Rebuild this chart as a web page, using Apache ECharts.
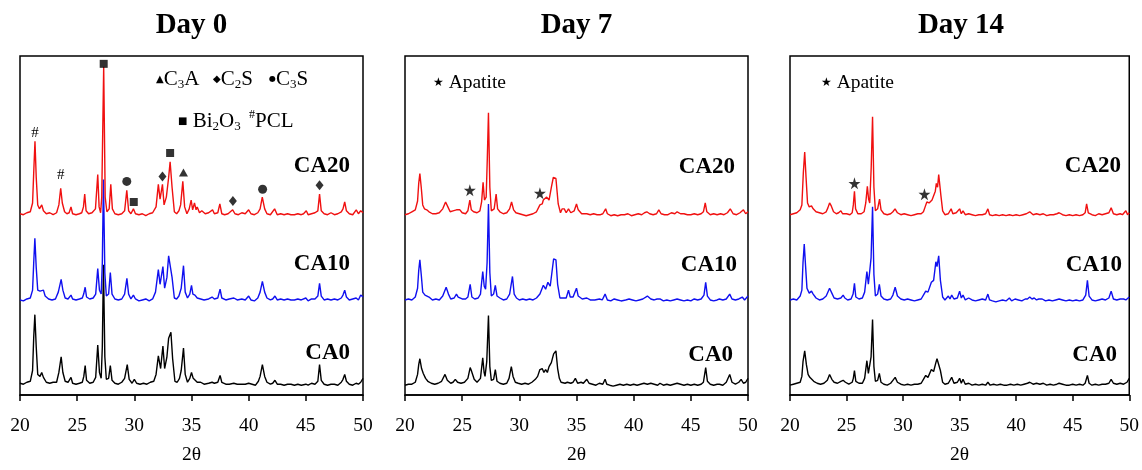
<!DOCTYPE html>
<html><head><meta charset="utf-8">
<script src="https://cdn.jsdelivr.net/npm/echarts@6/dist/echarts.min.js"></script>
<style>html,body{margin:0;padding:0;background:#fff}#c{width:1142px;height:470px}</style>
</head><body><div id="c"></div>
<script>
// ---------- data ----------
const panels = ['Day 0', 'Day 7', 'Day 14'];
const samples = ['CA0', 'CA10', 'CA20'];
const xTicks = [20, 25, 30, 35, 40, 45, 50];
const stackOffsets = [9, 95, 182];   // vertical stacking offsets (a.u.) for CA0, CA10, CA20

const day0_CA20 = [[20,3],[20.3,2],[20.6,4],[20.9,5],[21.1,14],[21.2,45],[21.31,77],[21.42,40],[21.55,12],[21.7,8],[21.9,12],[22.05,6],[22.3,3],[22.6,4],[22.9,2],[23.2,4],[23.4,12],[23.56,29],[23.7,14],[23.9,5],[24.1,3],[24.3,4],[24.46,10],[24.6,3],[24.9,2],[25.2,3],[25.4,4],[25.55,10],[25.66,23],[25.78,6],[26.0,3],[26.3,4],[26.6,8],[26.8,43],[26.92,10],[27.05,4],[27.15,20],[27.32,153],[27.45,20],[27.6,5],[27.8,8],[27.94,33],[28.08,8],[28.3,3],[28.6,2],[28.9,3],[29.15,6],[29.34,27],[29.5,6],[29.7,3],[29.92,8],[30.1,3],[30.4,2],[30.7,3],[31.0,1],[31.3,3],[31.6,4],[31.9,10],[32.1,33],[32.25,18],[32.46,33],[32.6,12],[32.8,20],[33.0,40],[33.13,56],[33.3,30],[33.5,5],[33.7,3],[33.9,6],[34.05,12],[34.24,36],[34.4,10],[34.6,3],[34.8,8],[34.97,17],[35.1,7],[35.26,14],[35.4,7],[35.5,10],[35.7,4],[35.9,6],[36.2,3],[36.5,4],[36.84,7],[37.0,3],[37.3,4],[37.48,13],[37.65,3],[37.9,2],[38.2,3],[38.6,7],[38.8,3],[39.1,2],[39.4,4],[39.7,3],[40.0,7],[40.2,3],[40.5,2],[40.8,4],[41.0,8],[41.19,20],[41.4,8],[41.6,3],[41.9,2],[42.27,8],[42.5,2],[42.8,3],[43.1,2],[43.4,3],[43.7,2],[44.0,2],[44.3,3],[44.6,2],[44.8,3],[45.04,6],[45.2,2],[45.5,3],[45.8,4],[46.05,6],[46.2,23],[46.35,6],[46.6,3],[46.9,2],[47.2,4],[47.5,2],[47.8,3],[48.1,5],[48.25,8],[48.4,15],[48.55,6],[48.8,3],[49.1,2],[49.41,7],[49.6,3],[49.8,6],[50,4]];
const day0_CA10 = [[20,2],[20.3,1],[20.6,3],[20.9,4],[21.1,12],[21.2,40],[21.3,65],[21.42,35],[21.55,12],[21.75,11],[21.9,13],[22.05,12],[22.2,6],[22.5,3],[22.8,2],[23.1,3],[23.35,10],[23.6,23],[23.75,12],[23.95,4],[24.2,3],[24.46,7],[24.6,3],[24.9,2],[25.2,3],[25.45,4],[25.57,8],[25.7,15],[25.82,5],[26.1,3],[26.4,4],[26.62,8],[26.8,34],[26.95,12],[27.1,8],[27.2,40],[27.3,125],[27.42,30],[27.55,6],[27.75,8],[27.9,30],[28.05,8],[28.3,3],[28.6,2],[28.9,3],[29.15,8],[29.35,24],[29.5,8],[29.7,3],[29.92,7],[30.1,3],[30.4,1],[30.7,2],[31.0,3],[31.3,1],[31.6,3],[31.85,10],[32.1,33],[32.25,18],[32.5,36],[32.65,14],[32.85,25],[33.0,47],[33.15,49],[33.3,25],[33.5,4],[33.7,3],[33.9,6],[34.1,14],[34.3,37],[34.45,10],[34.65,4],[34.85,8],[35.0,17],[35.12,8],[35.3,7],[35.5,4],[35.8,3],[36.1,2],[36.5,3],[36.8,5],[37.0,3],[37.3,4],[37.5,13],[37.65,4],[38.0,2],[38.3,3],[38.7,4],[39.0,2],[39.4,3],[39.7,2],[40.0,6],[40.2,2],[40.5,1],[40.8,4],[41.0,10],[41.2,21],[41.4,10],[41.6,4],[41.9,2],[42.1,3],[42.3,6],[42.5,2],[42.8,3],[43.1,2],[43.4,3],[43.7,2],[44.0,2],[44.3,3],[44.6,2],[45.0,4],[45.2,1],[45.5,3],[45.8,3],[46.05,6],[46.2,19],[46.35,6],[46.6,2],[46.9,3],[47.2,2],[47.5,3],[47.8,2],[48.1,4],[48.25,7],[48.4,12],[48.55,5],[48.8,2],[49.1,3],[49.4,4],[49.6,2],[49.8,7],[50,5]];
const day0_CA0 = [[20,3],[20.3,2],[20.6,4],[20.9,5],[21.1,16],[21.2,50],[21.3,73],[21.42,40],[21.55,12],[21.75,10],[21.9,14],[22.05,9],[22.3,4],[22.6,3],[22.9,4],[23.2,4],[23.4,14],[23.6,30],[23.75,14],[23.95,5],[24.2,4],[24.46,9],[24.6,3],[24.9,2],[25.2,3],[25.45,4],[25.58,10],[25.7,21],[25.82,6],[26.1,3],[26.4,4],[26.62,9],[26.8,42],[26.95,14],[27.1,8],[27.2,40],[27.3,124],[27.42,30],[27.55,7],[27.75,8],[27.9,21],[28.05,6],[28.3,3],[28.6,2],[28.9,4],[29.15,8],[29.38,22],[29.55,7],[29.8,3],[30.0,7],[30.2,3],[30.5,2],[30.8,3],[31.1,2],[31.4,4],[31.7,5],[31.9,12],[32.1,31],[32.3,18],[32.5,41],[32.65,18],[32.85,30],[33.0,49],[33.2,55],[33.35,28],[33.55,5],[33.75,4],[33.95,8],[34.1,16],[34.3,39],[34.45,12],[34.65,4],[34.85,8],[35.0,14],[35.15,8],[35.3,7],[35.5,4],[35.8,4],[36.1,2],[36.5,3],[36.8,4],[37.0,3],[37.3,4],[37.5,11],[37.65,4],[38.0,2],[38.3,2],[38.7,3],[39.0,2],[39.4,2],[39.7,2],[40.0,3],[40.3,2],[40.6,1],[40.85,5],[41.0,10],[41.2,22],[41.4,10],[41.6,4],[41.9,2],[42.1,3],[42.3,6],[42.5,2],[42.8,2],[43.1,1],[43.4,2],[43.7,2],[44.0,1],[44.3,2],[44.6,1],[45.0,2],[45.2,1],[45.5,3],[45.8,2],[46.05,5],[46.2,22],[46.35,6],[46.6,2],[46.9,1],[47.2,2],[47.5,2],[47.8,1],[48.1,4],[48.25,7],[48.4,12],[48.55,5],[48.8,2],[49.1,1],[49.4,3],[49.6,2],[49.8,4],[50,8]];

const day7_CA20 = [[20,2],[20.3,3],[20.6,5],[20.9,7],[21.1,16],[21.2,34],[21.3,44],[21.42,30],[21.55,12],[21.7,8],[21.9,7],[22.1,5],[22.4,3],[22.7,3],[23.0,4],[23.3,8],[23.55,15],[23.75,10],[23.95,5],[24.2,6],[24.5,7],[24.65,5],[24.8,7],[25.0,4],[25.3,3],[25.5,6],[25.67,17],[25.8,7],[26.0,5],[26.3,4],[26.55,6],[26.7,15],[26.83,35],[26.95,17],[27.1,20],[27.2,60],[27.3,106],[27.42,30],[27.55,6],[27.8,8],[27.97,23],[28.1,8],[28.3,5],[28.6,3],[28.9,4],[29.15,8],[29.32,15],[29.5,7],[29.7,4],[30.0,3],[30.3,2],[30.6,1],[30.9,2],[31.2,3],[31.5,5],[31.8,12],[32.0,13],[32.1,17],[32.25,15],[32.39,20],[32.6,17],[32.8,30],[32.97,40],[33.1,41],[33.2,39],[33.4,13],[33.6,4],[33.75,8],[33.93,8],[34.1,4],[34.3,8],[34.5,4],[34.8,6],[35.0,13],[35.15,7],[35.3,8],[35.45,3],[35.6,5],[35.9,3],[36.2,2],[36.5,3],[36.8,2],[37.1,2],[37.3,3],[37.55,8],[37.7,3],[38.0,1],[38.3,2],[38.6,1],[38.9,2],[39.2,2],[39.5,3],[39.8,1],[40.1,2],[40.4,3],[40.7,2],[40.95,4],[41.15,5],[41.4,3],[41.7,2],[42.0,3],[42.2,7],[42.4,3],[42.7,2],[43.0,2],[43.3,4],[43.6,3],[43.8,5],[44.1,3],[44.4,3],[44.7,2],[45.0,2],[45.3,3],[45.6,2],[45.9,3],[46.1,5],[46.26,14],[46.4,5],[46.7,2],[47.0,3],[47.3,2],[47.6,3],[47.9,2],[48.2,4],[48.45,8],[48.7,3],[49.0,2],[49.3,4],[49.6,7],[49.8,3],[50,5]];
const day7_CA10 = [[20,2],[20.3,3],[20.6,2],[20.9,5],[21.1,14],[21.2,32],[21.3,43],[21.42,28],[21.55,10],[21.75,7],[21.9,8],[22.1,5],[22.4,2],[22.7,3],[23.0,2],[23.3,6],[23.6,15],[23.8,8],[24.0,3],[24.3,4],[24.5,8],[24.65,5],[24.8,6],[25.0,3],[25.3,3],[25.5,5],[25.7,18],[25.85,5],[26.1,3],[26.4,4],[26.6,8],[26.8,31],[26.93,16],[27.05,13],[27.18,40],[27.3,100],[27.42,30],[27.55,6],[27.75,8],[27.9,17],[28.05,6],[28.3,4],[28.6,2],[28.9,3],[29.15,8],[29.4,26],[29.55,8],[29.75,4],[30.0,2],[30.3,3],[30.6,2],[30.9,3],[31.2,2],[31.5,4],[31.8,8],[32.1,17],[32.3,13],[32.5,20],[32.7,16],[32.85,30],[33.0,44],[33.2,43],[33.35,18],[33.55,4],[33.75,4],[33.9,5],[34.1,4],[34.3,12],[34.45,5],[34.7,5],[35.0,14],[35.15,6],[35.3,6],[35.5,3],[35.9,4],[36.2,2],[36.6,2],[37.0,3],[37.25,2],[37.5,8],[37.7,2],[38.0,1],[38.3,3],[38.6,2],[38.9,1],[39.3,2],[39.6,3],[39.9,2],[40.2,1],[40.5,2],[40.8,3],[41.2,6],[41.5,3],[41.8,2],[42.05,3],[42.3,3],[42.6,1],[42.9,2],[43.2,1],[43.5,2],[43.8,3],[44.1,2],[44.4,1],[44.7,2],[45.0,1],[45.3,3],[45.6,2],[45.9,3],[46.15,7],[46.3,20],[46.45,6],[46.7,2],[47.0,1],[47.3,2],[47.5,3],[47.8,2],[48.1,3],[48.4,8],[48.6,3],[48.9,2],[49.2,3],[49.5,5],[49.7,2],[50,6]];
const day7_CA0 = [[20,1],[20.3,2],[20.6,2],[20.9,4],[21.1,12],[21.2,22],[21.3,28],[21.45,18],[21.6,13],[21.8,8],[22.0,5],[22.3,3],[22.6,2],[22.9,3],[23.2,5],[23.5,12],[23.7,6],[24.0,3],[24.2,4],[24.4,7],[24.6,4],[24.9,3],[25.2,4],[25.5,8],[25.7,19],[25.8,16],[25.9,18],[26.05,7],[26.3,4],[26.6,8],[26.8,29],[26.92,14],[27.0,10],[27.15,25],[27.3,72],[27.42,20],[27.55,6],[27.75,7],[27.9,17],[28.05,5],[28.3,3],[28.6,2],[28.9,3],[29.1,8],[29.3,20],[29.45,10],[29.65,4],[29.9,3],[30.2,2],[30.5,3],[30.8,2],[31.1,4],[31.4,7],[31.6,10],[31.8,17],[32.0,18],[32.15,14],[32.3,17],[32.45,14],[32.6,20],[32.8,24],[33.0,33],[33.2,36],[33.35,18],[33.5,8],[33.65,4],[33.8,5],[34.0,3],[34.2,4],[34.5,3],[34.7,4],[34.9,8],[35.1,3],[35.4,4],[35.6,3],[35.9,7],[36.1,3],[36.4,2],[36.7,1],[37.0,3],[37.3,2],[37.5,7],[37.65,2],[37.9,1],[38.2,0],[38.5,1],[38.8,2],[39.1,1],[39.4,2],[39.7,1],[40.0,2],[40.3,1],[40.6,2],[40.9,3],[41.2,2],[41.5,3],[41.8,2],[42.1,1],[42.3,3],[42.6,1],[42.9,2],[43.2,1],[43.5,2],[43.8,3],[44.1,2],[44.4,1],[44.7,2],[45.0,1],[45.3,2],[45.6,1],[45.9,2],[46.1,4],[46.3,19],[46.45,5],[46.7,2],[47.0,1],[47.3,2],[47.5,2],[47.8,1],[48.1,4],[48.4,12],[48.6,4],[48.9,2],[49.2,4],[49.4,7],[49.6,3],[49.8,4],[50,8]];

const day14_CA20 = [[20,2],[20.3,3],[20.6,4],[20.9,7],[21.05,12],[21.18,45],[21.3,66],[21.42,40],[21.55,14],[21.7,10],[21.9,11],[22.05,8],[22.3,5],[22.6,4],[22.9,3],[23.2,5],[23.35,9],[23.5,14],[23.65,11],[23.85,5],[24.1,3],[24.3,4],[24.5,6],[24.65,3],[24.8,4],[25.0,3],[25.3,2],[25.5,4],[25.6,12],[25.7,26],[25.8,8],[26.0,3],[26.3,3],[26.55,5],[26.7,14],[26.84,31],[26.95,18],[27.05,14],[27.18,50],[27.3,102],[27.42,30],[27.55,6],[27.75,8],[27.92,18],[28.05,7],[28.3,3],[28.6,2],[28.9,3],[29.1,5],[29.29,8],[29.5,4],[29.8,2],[30.1,3],[30.4,2],[30.7,1],[31.0,2],[31.3,3],[31.6,3],[31.8,5],[31.95,10],[32.1,15],[32.3,14],[32.45,12],[32.56,17],[32.7,15],[32.85,26],[32.94,34],[33.05,30],[33.15,43],[33.35,21],[33.5,6],[33.7,2],[34.0,3],[34.25,8],[34.4,3],[34.7,4],[35.0,8],[35.15,3],[35.3,6],[35.5,2],[35.8,3],[36.1,2],[36.4,1],[36.7,2],[37.0,2],[37.3,3],[37.5,8],[37.65,2],[37.9,1],[38.2,2],[38.5,1],[38.8,2],[39.1,1],[39.4,2],[39.7,1],[40.0,2],[40.3,1],[40.6,2],[40.9,3],[41.2,5],[41.5,2],[41.8,3],[42.1,2],[42.4,3],[42.7,1],[43.0,2],[43.3,2],[43.6,3],[43.8,4],[44.1,2],[44.4,1],[44.7,2],[45.0,1],[45.3,2],[45.6,1],[45.9,2],[46.1,4],[46.23,13],[46.38,4],[46.7,2],[47.0,1],[47.3,3],[47.6,2],[47.9,3],[48.2,4],[48.4,9],[48.6,3],[48.9,2],[49.2,3],[49.4,2],[49.7,6],[49.85,2],[50,4]];
const day14_CA10 = [[20,2],[20.3,3],[20.6,2],[20.9,6],[21.05,12],[21.15,40],[21.26,59],[21.38,36],[21.5,14],[21.7,9],[21.9,11],[22.05,8],[22.3,4],[22.6,2],[22.9,3],[23.2,6],[23.5,14],[23.7,9],[23.9,4],[24.2,3],[24.5,4],[24.7,7],[24.85,4],[25.1,2],[25.4,3],[25.58,8],[25.7,19],[25.82,5],[26.1,3],[26.4,4],[26.6,10],[26.8,31],[26.93,18],[27.03,16],[27.17,45],[27.3,97],[27.42,28],[27.55,6],[27.75,8],[27.9,18],[28.05,6],[28.3,3],[28.6,2],[28.9,3],[29.1,7],[29.3,15],[29.5,6],[29.8,3],[30.1,2],[30.4,3],[30.7,2],[31.0,1],[31.3,2],[31.6,3],[31.85,8],[32.0,11],[32.2,10],[32.5,20],[32.7,22],[32.9,41],[33.0,36],[33.15,47],[33.3,22],[33.5,5],[33.7,2],[34.0,6],[34.15,3],[34.3,7],[34.5,3],[34.8,4],[35.0,11],[35.15,4],[35.3,7],[35.5,2],[35.8,4],[36.1,2],[36.4,1],[36.7,2],[37.0,3],[37.3,2],[37.5,8],[37.65,2],[37.9,1],[38.2,0],[38.5,1],[38.8,2],[39.1,1],[39.4,4],[39.6,1],[39.9,3],[40.2,2],[40.5,1],[40.8,3],[41.0,3],[41.2,5],[41.4,3],[41.6,4],[41.8,2],[42.0,3],[42.3,3],[42.6,1],[42.9,2],[43.2,1],[43.5,2],[43.8,3],[44.1,2],[44.4,1],[44.7,2],[45.0,1],[45.3,2],[45.6,1],[45.9,2],[46.15,7],[46.3,22],[46.45,6],[46.7,2],[47.0,1],[47.3,2],[47.6,3],[47.9,2],[48.2,4],[48.4,11],[48.6,3],[48.9,2],[49.2,3],[49.5,3],[49.7,2],[50,5]];
const day14_CA0 = [[20,1],[20.3,2],[20.6,3],[20.9,4],[21.05,10],[21.15,25],[21.3,36],[21.45,22],[21.6,12],[21.75,9],[21.9,9],[22.1,5],[22.4,3],[22.7,2],[23.0,3],[23.3,6],[23.5,12],[23.7,7],[23.9,4],[24.2,3],[24.5,5],[24.7,6],[24.9,4],[25.2,2],[25.5,4],[25.6,8],[25.7,16],[25.82,5],[26.1,3],[26.4,3],[26.6,8],[26.8,26],[26.93,13],[27.03,11],[27.17,30],[27.3,68],[27.42,20],[27.55,5],[27.75,6],[27.9,13],[28.05,4],[28.3,2],[28.6,1],[28.9,3],[29.1,6],[29.3,9],[29.5,4],[29.8,2],[30.1,1],[30.4,2],[30.7,1],[31.0,2],[31.3,2],[31.6,3],[31.85,8],[32.0,11],[32.2,9],[32.5,17],[32.7,15],[32.9,24],[33.0,28],[33.15,30],[33.3,16],[33.5,4],[33.7,2],[34.0,3],[34.3,9],[34.5,3],[34.8,4],[35.0,8],[35.15,3],[35.3,7],[35.5,2],[35.8,3],[36.1,1],[36.4,2],[36.7,1],[37.0,2],[37.3,1],[37.5,4],[37.7,1],[38.0,2],[38.3,1],[38.6,2],[38.9,1],[39.2,1],[39.5,2],[39.8,1],[40.1,2],[40.4,1],[40.7,2],[41.0,3],[41.2,4],[41.5,2],[41.8,3],[42.1,2],[42.4,3],[42.7,1],[43.0,2],[43.3,1],[43.6,2],[43.8,3],[44.1,2],[44.4,1],[44.7,1],[45.0,2],[45.3,1],[45.6,2],[45.9,1],[46.1,3],[46.3,11],[46.45,3],[46.7,1],[47.0,2],[47.3,1],[47.6,2],[47.9,2],[48.2,3],[48.4,7],[48.6,3],[48.9,2],[49.2,3],[49.5,2],[49.8,4],[50,8]];

// phase annotation points (2θ, stacked a.u.)
const mark_C3A = [[34.3, 227]];
const mark_C2S = [[32.46, 223], [38.62, 198], [46.2, 214]];
const mark_C3S = [[29.34, 218], [41.22, 210]];
const mark_Bi2O3 = [[27.32, 338], [29.95, 197], [33.13, 247]];
const mark_PCL = [[21.31, 267], [23.56, 224]];
const mark_Apatite_d7 = [[25.67, 209], [31.8, 206]];
const mark_Apatite_d14 = [[25.7, 216], [31.89, 205]];

// ---------- chart ----------
const panelSeries = [
  [day0_CA0, day0_CA10, day0_CA20],
  [day7_CA0, day7_CA10, day7_CA20],
  [day14_CA0, day14_CA10, day14_CA20]
];
const colors = ['#000000', '#1010f0', '#f01010'];
const SERIF = "'Liberation Serif', 'DejaVu Serif', serif";
const gridDefs = [
  {left: 20, top: 56, width: 343, height: 346},
  {left: 405, top: 56, width: 343, height: 346},
  {left: 790, top: 56, width: 342, height: 346}
];

const chart = echarts.init(document.getElementById('c'), null, {renderer: 'canvas'});

const grid = gridDefs.map(g => Object.assign({show: true, borderColor: '#000', borderWidth: 1.5, backgroundColor: 'transparent'}, g));
const xAxis = gridDefs.map((g, i) => ({
  gridIndex: i, type: 'value', min: xTicks[0], max: xTicks[xTicks.length - 1], interval: 5,
  axisLine: {show: true, lineStyle: {color: '#000', width: 1.5}},
  axisTick: {show: true, inside: false, length: 6, lineStyle: {color: '#000', width: 1.5}},
  axisLabel: {fontFamily: SERIF, fontSize: 19.5, color: '#000', margin: 21},
  splitLine: {show: false},
  name: '2θ', nameLocation: 'middle', nameGap: 50,
  nameTextStyle: {fontFamily: SERIF, fontSize: 19.5, color: '#000'}
}));
const yAxis = gridDefs.map((g, i) => ({gridIndex: i, type: 'value', min: 0, max: 346, show: false}));

const series = [];
panelSeries.forEach((list, p) => {
  list.forEach((arr, s) => {
    series.push({
      type: 'line', name: panels[p] + ' ' + samples[s], xAxisIndex: p, yAxisIndex: p,
      data: arr.map(d => [d[0], d[1] + stackOffsets[s]]),
      showSymbol: false, symbol: 'none', silent: true,
      lineStyle: {color: colors[s], width: 1.4}, z: 2 + s
    });
  });
});

const STAR = 'path://M50,0 L61,35 98,35 68,57 79,91 50,70 21,91 32,57 2,35 39,35Z';
function markSeries(p, data, symbol, size) {
  return {type: 'scatter', xAxisIndex: p, yAxisIndex: p, data, symbol, symbolSize: size,
    itemStyle: {color: '#000'}, silent: true, z: 10};
}
series.push(markSeries(0, mark_C3A, 'triangle', [9, 8]));
series.push(markSeries(0, mark_C2S, 'diamond', [8, 10]));
series.push(markSeries(0, mark_C3S, 'circle', 9));
series.push(markSeries(0, mark_Bi2O3, 'rect', 8));
series.push(markSeries(1, mark_Apatite_d7, STAR, 12));
series.push(markSeries(2, mark_Apatite_d14, STAR, 12));
series.push({type: 'scatter', xAxisIndex: 0, yAxisIndex: 0, data: mark_PCL, symbol: 'rect', symbolSize: 0,
  itemStyle: {color: '#000'}, silent: true, z: 10,
  label: {show: true, position: 'inside', formatter: '#', fontFamily: SERIF, fontSize: 15, color: '#000', opacity: 1}});

const graphic = [];
// panel titles
gridDefs.forEach((g, i) => {
  graphic.push({type: 'text', x: g.left + g.width / 2, y: 26,
    style: {text: panels[i], fontFamily: SERIF, fontWeight: 'bold', fontSize: 29, fill: '#000',
      textAlign: 'center', textVerticalAlign: 'middle'}});
});
// sample labels
const labelPos = [
  [[350, 353], [350, 264], [350, 166]],
  [[733, 355], [737, 265], [735, 167]],
  [[1117, 355], [1122, 265], [1121, 166]]
];
labelPos.forEach((arr, p) => arr.forEach((pos, s) => {
  graphic.push({type: 'text', x: pos[0], y: pos[1],
    style: {text: samples[s], fontFamily: SERIF, fontWeight: 'bold', fontSize: 23, fill: '#000',
      textAlign: 'right', textVerticalAlign: 'middle'}});
}));
// phase legend (Day 0)
const rich = {
  s: {fontFamily: 'DejaVu Sans', fontSize: 10, fill: '#000', verticalAlign: 'middle'},
  c: {fontFamily: 'DejaVu Sans', fontSize: 8, fill: '#000', verticalAlign: 'middle'},
  t: {fontFamily: SERIF, fontSize: 21, fill: '#000', lineHeight: 24},
  b: {fontFamily: SERIF, fontSize: 13, fill: '#000', lineHeight: 13, verticalAlign: 'bottom'},
  h: {fontFamily: SERIF, fontSize: 12, fill: '#000', lineHeight: 24, verticalAlign: 'top'}
};
const legendItems = [
  [156, 79, '{s|▲}{t|C}{b|3}{t|A}'],
  [213, 79, '{s|◆}{t|C}{b|2}{t|S}'],
  [269, 79, '{c|●}{t|C}{b|3}{t|S}'],
  [178, 121, '{s|■}{t| Bi}{b|2}{t|O}{b|3}'],
  [249, 121, '{h|#}{t|PCL}']
];
legendItems.forEach(it => {
  graphic.push({type: 'text', x: it[0], y: it[1], style: {text: it[2], rich, textVerticalAlign: 'middle'}});
});
// apatite legends
[[433, 83], [821, 83]].forEach(pos => {
  graphic.push({type: 'text', x: pos[0], y: pos[1], style: {
    text: '{s|★}{t| Apatite}', rich: {
      s: {fontFamily: 'DejaVu Sans', fontSize: 12, fill: '#000'},
      t: {fontFamily: SERIF, fontSize: 19.5, fill: '#000'}
    }, textVerticalAlign: 'middle'}});
});

chart.setOption({animation: false, backgroundColor: '#fff', grid, xAxis, yAxis, series, graphic});
</script></body></html>
